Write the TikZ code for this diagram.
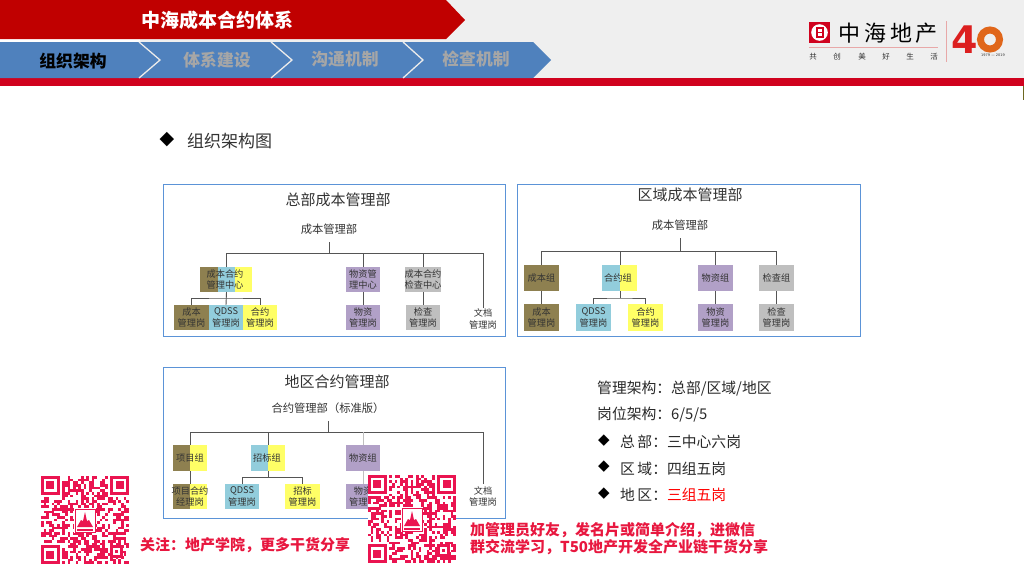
\documentclass[tikz,border=0pt]{standalone}
\usepackage{fontspec}
\setmainfont{Noto Sans CJK SC}
\newfontfamily\latinfont{DejaVu Sans}
\definecolor{hdr}{HTML}{EFEFEF}
\definecolor{bandred}{HTML}{D0021E}
\definecolor{titlered}{HTML}{C00000}
\definecolor{tabblue}{HTML}{4F81BD}
\definecolor{tabgray}{HTML}{A6A6A6}
\definecolor{panelblue}{HTML}{5B93D7}
\definecolor{cOlive}{HTML}{8E8050}
\definecolor{cBlue}{HTML}{92CDDC}
\definecolor{cYellow}{HTML}{FFFF66}
\definecolor{cPurple}{HTML}{B1A0C7}
\definecolor{cGray}{HTML}{BFBFBF}
\definecolor{conn}{HTML}{555555}
\definecolor{qrred}{HTML}{EA1450}
\definecolor{promo}{HTML}{E8173F}
\definecolor{ink}{HTML}{333333}
\definecolor{logoline}{HTML}{E8A8A8}
\definecolor{forty}{HTML}{DC1F1F}
\definecolor{fortyb}{HTML}{E0661A}
\tikzset{
  bxs/.style={inner sep=0pt,outer sep=0pt,text=ink,align=center,font=\fontsize{9.2}{11.2}\selectfont},
  panel/.style={draw=panelblue,line width=0.9pt,fill=white,inner sep=0pt},
  wire/.style={draw=conn,line width=0.9pt},
  ptitle/.style={inner sep=0pt,text=ink,font=\fontsize{15}{18}\selectfont},
  psub/.style={inner sep=0pt,text=ink,minimum height=26pt,font=\fontsize{11.3}{13}\selectfont},
  tabtext/.style={inner sep=0pt,font=\fontsize{16.8}{18}\bfseries\selectfont},
  chev/.style={draw=white!92!black,line width=1.3pt},
  info/.style={inner sep=0pt,anchor=west,text=ink!80!black,font=\fontsize{14.8}{16}\selectfont},
  promotext/.style={inner sep=0pt,anchor=west,text=promo,font=\fontsize{15}{17}\bfseries\selectfont},
  slogan/.style={inner sep=0pt,text=ink,font=\fontsize{7.5}{9}\selectfont},
  logochar/.style={inner sep=0pt,text=black,font=\fontsize{22}{24}\selectfont},
  dia/.style={inner sep=0pt,text=black,font=\latinfont\fontsize{15}{16}\selectfont},
}
\newcommand\bx[7][]{%
  \pgfmathsetmacro\bxw{#5-#3}\pgfmathsetmacro\bxh{#6-#4}%
  \pgfmathsetmacro\bxx{(#3+#5)/2}\pgfmathsetmacro\bxy{(#4+#6)/2}%
  \node[bxs,#1,minimum width=\bxw pt,minimum height=\bxh pt] (#2) at (\bxx,\bxy) {#7};}
\newcommand\finder[2]{%
  \fill[qrred] (#1,#2) rectangle ++(18.7,18.7);
  \fill[white] ({#1+2.67},{#2+2.67}) rectangle ++(13.35,13.35);
  \fill[qrred] ({#1+5.34},{#2+5.34}) rectangle ++(8,8);}
\newcommand\qrblock[3]{%
  \begin{scope}[shift={(#1,#2)}]
    \fill[white] (0,0) rectangle (88,88);
    \pgfmathsetseed{#3}
    \foreach \i in {0,...,32}{\foreach \j in {0,...,32}{%
      \pgfmathrandominteger{\rr}{0}{99}%
      \ifnum\rr<52\relax
        \pgfmathsetmacro\qx{\i*2.667}\pgfmathsetmacro\qy{\j*2.667}%
        \fill[qrred] (\qx,\qy) rectangle ++(2.72,2.72);
      \fi}}
    \fill[white] (0,0) rectangle (21,21);
    \fill[white] (67,0) rectangle (88,21);
    \fill[white] (0,67) rectangle (21,88);
    \finder{0}{0}\finder{69.3}{0}\finder{0}{69.3}
    \fill[qrred] (69,69) rectangle ++(13,13);
    \fill[white] (71.7,71.7) rectangle ++(7.6,7.6);
    \fill[qrred] (74.3,74.3) rectangle ++(2.6,2.6);
    \fill[white] (33,32) rectangle (55,57);
    \draw[qrred,line width=0.4pt] (34,33) rectangle (54,56);
    \fill[qrred] (36,51) -- (40,44) -- (42,45) -- (44,36) -- (46,45) -- (48,44) -- (52,51) -- cycle;
    \fill[qrred] (36,52.5) rectangle (52,54.5);
  \end{scope}}
\begin{document}
\begin{tikzpicture}[x=1pt,y=-1pt]
\useasboundingbox (0,0) rectangle (1024,576);
\fill[white] (0,0) rectangle (1024,576);
% header
\fill[hdr] (0,0) rectangle (1024,80);
\fill[bandred] (0,78) rectangle (1024,86);
\fill[white] (0,39) rectangle (140,42);
\fill[olive!70!black] (1023,86) rectangle (1024,100);
\fill[titlered] (0,0) -- (446,0) -- (465,20) -- (446,39) -- (0,39) -- cycle;
\node[inner sep=0pt,text=white,font=\fontsize{19}{22}\bfseries\selectfont] (maintitle) at (217.5,20) {中海成本合约体系};
\fill[tabblue] (0,42) -- (533,42) -- (551,60) -- (533,78) -- (0,78) -- cycle;
\draw[chev] (139,42) -- (160,60) -- (139,78);
\draw[chev] (271,42) -- (292,60) -- (271,78);
\draw[chev] (403,42) -- (423,60) -- (403,78);
\node[tabtext,text=black] (tab1) at (73,61) {组织架构};
\node[tabtext,text=tabgray] (tab2) at (217,60) {体系建设};
\node[tabtext,text=tabgray] (tab3) at (345,59) {沟通机制};
\node[tabtext,text=tabgray] (tab4) at (476,59) {检查机制};
% logo
\fill[bandred] (809,22) rectangle (830,43);
\fill[white] (819.5,32.5) circle (8.3);
\fill[bandred] (815.5,27) rectangle (823.5,38);
\fill[white] (817.5,29) rectangle (821.5,31.7);
\fill[white] (817.5,33.3) rectangle (821.5,36);
\node[logochar] (logoa) at (849,33) {中};
\node[logochar] (logob) at (875,33) {海};
\node[logochar] (logoc) at (901,33) {地};
\node[logochar] (logod) at (926,33) {产};
\draw[logoline,line width=0.8pt] (809,47.5) -- (938,47.5);
\draw[logoline,line width=0.8pt] (946,21) -- (946,62);
\node[slogan] (s1) at (813,57) {共};
\node[slogan] (s2) at (837,57) {创};
\node[slogan] (s3) at (862,57) {美};
\node[slogan] (s4) at (886,57) {好};
\node[slogan] (s5) at (910,57) {生};
\node[slogan] (s6) at (934,57) {活};
\draw[fortyb,line width=7pt] (990,39.5) circle (9.5);
\node[inner sep=0pt,text=forty,font=\latinfont\fontsize{38}{40}\bfseries\selectfont] (four) at (965,40) {4};
\node[inner sep=0pt,text=ink,font=\latinfont\fontsize{3.5}{4}\selectfont] (years) at (993,55.5) {1979 — 2019};
% heading
\node[dia,font=\latinfont\fontsize{19}{20}\selectfont] (bullet0) at (167,140) {◆};
\node[inner sep=0pt,anchor=west,text=ink,font=\fontsize{17}{19}\selectfont] (heading) at (187,141) {组织架构图};
% panels
\node[panel,minimum width=342pt,minimum height=152pt] (panelA) at (334,260) {};
\node[panel,minimum width=343pt,minimum height=152pt] (panelB) at (688.5,260) {};
\node[panel,minimum width=342pt,minimum height=151pt] (panelC) at (334,442.5) {};
% ---------- panel A
\node[ptitle] (ta) at (338,200) {总部成本管理部};
\node[psub] (ma) at (329,229) {成本管理部};
\coordinate (busAL) at (226,253);
\coordinate (busAR) at (483,253);
\bx[fill=cOlive]{a1o}{200}{267}{218}{292}{}
\bx[fill=cBlue]{a1b}{218}{267}{235}{292}{}
\bx[fill=cYellow]{a1y}{235}{267}{252}{292}{}
\node[bxs] (a1t) at (225,279.5) {成本合约\\管理中心};
\bx[fill=cPurple]{a2}{346}{267}{380}{292}{物资管\\理中心}
\bx[fill=cGray]{a3}{406}{267}{440}{292}{成本合约\\检查中心}
\bx[fill=cOlive]{a4}{174}{305}{209}{330}{成本\\管理岗}
\bx[fill=cBlue]{a5}{209}{305}{243}{330}{QDSS\\管理岗}
\bx[fill=cYellow]{a6}{243}{305}{277}{330}{合约\\管理岗}
\bx[fill=cPurple]{a7}{346}{305}{380}{330}{物资\\管理岗}
\bx[fill=cGray]{a8}{406}{305}{440}{330}{检查\\管理岗}
\bx{a9}{466}{308}{500}{330}{文档\\管理岗}
\draw[wire] (busAL) -- (busAR);
\draw[wire] (ma.south) -- (ma.south |- busAL);
\draw[wire] (a1b.north) -- (a1b.north |- busAL);
\draw[wire] (a2.north) -- (a2.north |- busAL);
\draw[wire] (a3.north) -- (a3.north |- busAL);
\draw[wire] (a9.north) -- (a9.north |- busAL);
\draw[wire] (a2) -- (a7);
\draw[wire] (a3) -- (a8);
\coordinate (busA2) at (226,298);
\draw[wire] (a1b.south) -- (a5.north);
\draw[wire] (a4.north) |- (busA2) -| (a6.north);
% ---------- panel B
\node[ptitle] (tb) at (690,195) {区域成本管理部};
\node[psub] (mb) at (680,225) {成本管理部};
\coordinate (busBL) at (541,251);
\coordinate (busBR) at (776.5,251);
\bx[fill=cOlive]{b1}{524}{265}{559}{291}{成本组}
\bx[fill=cBlue]{b2b}{602}{265}{620}{291}{}
\bx[fill=cYellow]{b2y}{620}{265}{637}{291}{}
\node[bxs] (b2t) at (618,278) {合约组};
\bx[fill=cPurple]{b3}{698}{265}{733}{291}{物资组}
\bx[fill=cGray]{b4}{759}{265}{794}{291}{检查组}
\bx[fill=cOlive]{b5}{524}{304}{559}{331}{成本\\管理岗}
\bx[fill=cBlue]{b6}{576}{304}{611}{331}{QDSS\\管理岗}
\bx[fill=cYellow]{b7}{628}{304}{663}{331}{合约\\管理岗}
\bx[fill=cPurple]{b8}{698}{304}{733}{331}{物资\\管理岗}
\bx[fill=cGray]{b9}{759}{304}{794}{331}{检查\\管理岗}
\draw[wire] (busBL) -- (busBR);
\draw[wire] (mb.south) -- (mb.south |- busBL);
\draw[wire] (b1.north) -- (b1.north |- busBL);
\draw[wire] (b2y.north west) -- (b2y.north west |- busBL);
\draw[wire] (b3.north) -- (b3.north |- busBL);
\draw[wire] (b4.north) -- (b4.north |- busBL);
\draw[wire] (b1) -- (b5);
\draw[wire] (b3) -- (b8);
\draw[wire] (b4) -- (b9);
\coordinate (busB2) at (620,298);
\draw[wire] (b2y.south west) -- (busB2);
\draw[wire] (b6.north) |- (busB2) -| (b7.north);
% ---------- panel C
\node[ptitle] (tc) at (337,382) {地区合约管理部};
\node[psub] (mc) at (328,408) {合约管理部（标准版）};
\coordinate (busCL) at (191,432);
\coordinate (busCR) at (483,432);
\bx[fill=cOlive]{c1o}{173}{445}{190}{471}{}
\bx[fill=cYellow]{c1y}{190}{445}{207}{471}{}
\node[bxs] (c1t) at (190,458) {项目组};
\bx[fill=cBlue]{c2b}{251}{445}{268}{471}{}
\bx[fill=cYellow]{c2y}{268}{445}{285}{471}{}
\node[bxs] (c2t) at (267,458) {招标组};
\bx[fill=cPurple]{c3}{346}{445}{380}{471}{物资组}
\bx[fill=cOlive]{c4o}{173}{484}{190}{509}{}
\bx[fill=cYellow]{c4y}{190}{484}{207}{509}{}
\node[bxs] (c4t) at (190,496.5) {项目合约\\经理岗};
\bx[fill=cBlue]{c5}{225}{484}{259}{509}{QDSS\\管理岗}
\bx[fill=cYellow]{c6}{285}{484}{320}{509}{招标\\管理岗}
\bx[fill=cPurple]{c7}{346}{484}{380}{509}{物资\\管理岗}
\bx{c8}{466}{484}{500}{509}{文档\\管理岗}
\draw[wire] (busCL) -- (busCR);
\draw[wire] (mc.south) -- (mc.south |- busCL);
\draw[wire] (c1o.north east) -- (c1o.north east |- busCL);
\draw[wire] (c2b.north east) -- (c2b.north east |- busCL);
\draw[wire,draw=cGray] (c3.north) -- (c3.north |- busCL);
\draw[wire] (c8.north) -- (c8.north |- busCL);
\draw[wire] (c1o.south east) -- (c4o.north east);
\draw[wire,draw=cGray] (c3) -- (c7);
\coordinate (busC2) at (268,477);
\draw[wire] (c2b.south east) -- (busC2);
\draw[wire] (c5.north) |- (busC2) -| (c6.north);
% ---------- right text
\node[info] (i1) at (597,388.5) {管理架构：总部/区域/地区};
\node[info] (i2) at (597,414.5) {岗位架构：6/5/5};
\node[dia] (d1) at (604,441) {◆};
\node[dia] (d2) at (604,467) {◆};
\node[dia] (d3) at (604,494) {◆};
\node[info] (i3) at (620,441.5) {总\,部：三中心六岗};
\node[info] (i4) at (620,468.5) {区\,域：四组五岗};
\node[info] (i5) at (620,494.5) {地\,区：\textcolor{red}{三组五岗}};
% ---------- QR codes and promo
\qrblock{41}{476}{1234}
\qrblock{368}{475}{5678}
\node[promotext] (p1) at (140,545) {关注：地产学院，更多干货分享};
\node[promotext] (p2) at (470,530) {加管理员好友，发名片或简单介绍，进微信};
\node[promotext] (p3) at (470,547) {群交流学习，T50地产开发全产业链干货分享};
\end{tikzpicture}
\end{document}
